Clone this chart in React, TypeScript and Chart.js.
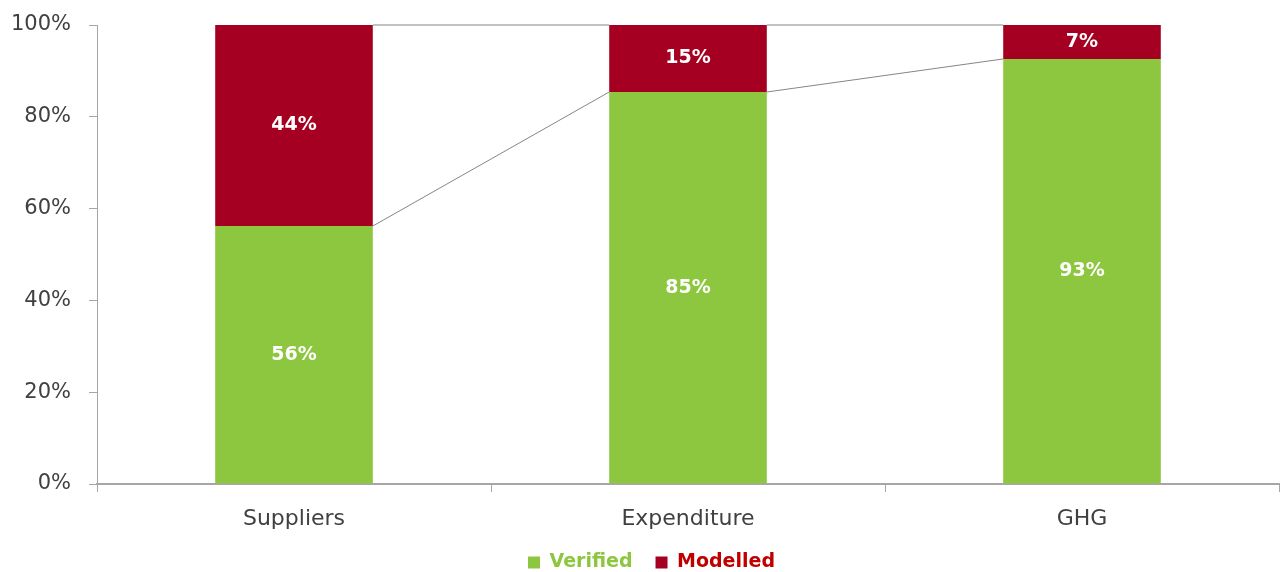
import React, { useEffect, useRef } from "react";
import { Chart, registerables } from "chart.js";

Chart.register(...registerables);

const categories = ["Suppliers", "Expenditure", "GHG"];
const verified = [56.2, 85.4, 92.6];
const modelled = [43.8, 14.6, 7.4];
const verifiedLabels = ["56%", "85%", "93%"];
const modelledLabels = ["44%", "15%", "7%"];
const yTicks = [0, 20, 40, 60, 80, 100];

const GREEN = "#8DC63F";
const RED = "#A50021";
const FONT = "'DejaVu Sans', sans-serif";

const seriesLines = {
  id: "seriesLines",
  afterLayout(chart: any) {
    const l = chart.legend;
    if (l) { l.left += 12; l.right += 12; }
  },
  afterDatasetsDraw(chart: any) {
    const ctx = chart.ctx;
    const y = chart.scales.y;
    const meta0 = chart.getDatasetMeta(0);
    ctx.save();
    ctx.strokeStyle = "#858585";
    ctx.lineWidth = 1;
    for (let i = 0; i < meta0.data.length - 1; i++) {
      const a = meta0.data[i].getProps(["x", "width"], true);
      const b = meta0.data[i + 1].getProps(["x", "width"], true);
      const x1 = a.x + a.width / 2;
      const x2 = b.x - b.width / 2;
      let c1 = 0;
      let c2 = 0;
      for (let d = 0; d < chart.data.datasets.length; d++) {
        c1 += chart.data.datasets[d].data[i];
        c2 += chart.data.datasets[d].data[i + 1];
        ctx.beginPath();
        ctx.moveTo(x1, y.getPixelForValue(Math.min(c1, 100)));
        ctx.lineTo(x2, y.getPixelForValue(Math.min(c2, 100)));
        ctx.stroke();
      }
    }
    ctx.fillStyle = "#ffffff";
    ctx.font = `bold 19px ${FONT}`;
    ctx.textAlign = "center";
    ctx.textBaseline = "middle";
    const labelSets = [verifiedLabels, modelledLabels];
    chart.data.datasets.forEach((ds: any, d: number) => {
      const meta = chart.getDatasetMeta(d);
      meta.data.forEach((el: any, i: number) => {
        const p = el.getProps(["x", "y", "base"], true);
        ctx.fillText(labelSets[d][i], p.x, (p.y + p.base) / 2);
      });
    });
    ctx.restore();
  },
};

export default function App() {
  const ref = useRef<HTMLCanvasElement>(null);
  useEffect(() => {
    if (!ref.current) return;
    const chart = new Chart(ref.current, {
      type: "bar",
      data: {
        labels: categories,
        datasets: [
          { label: "Verified", data: verified, backgroundColor: GREEN, barPercentage: 0.4, categoryPercentage: 1 },
          { label: "Modelled", data: modelled, backgroundColor: RED, barPercentage: 0.4, categoryPercentage: 1 },
        ],
      },
      options: {
        animation: false,
        responsive: true,
        maintainAspectRatio: false,
        layout: { padding: { top: 25, right: 1, left: 0, bottom: 0 } },
        scales: {
          x: {
            stacked: true,
            grid: { drawOnChartArea: false, drawTicks: true, tickLength: 8, color: "#a6a6a6", offset: true },
            border: { color: "#a6a6a6", width: 2 },
            ticks: { color: "#404040", font: { family: FONT, size: 22 }, padding: 14 },
            afterFit: (s: any) => { s.height = 46; s.paddingLeft = 0; s.paddingRight = 0; },
          },
          y: {
            stacked: true,
            min: 0,
            max: 100,
            afterBuildTicks: (s: any) => { s.ticks = yTicks.map((v) => ({ value: v })); },
            grid: { drawOnChartArea: false, drawTicks: true, tickLength: 8, color: "#a6a6a6" },
            border: { color: "#a6a6a6", width: 1 },
            ticks: { color: "#404040", font: { family: FONT, size: 21 }, padding: 18, callback: (v: any) => v + "%" },
            afterFit: (s: any) => { s.width = 97; s.paddingTop = 0; s.paddingBottom = 0; },
          },
        },
        plugins: {
          tooltip: { enabled: false },
          legend: {
            position: "bottom",
            labels: {
              boxWidth: 12,
              boxHeight: 12,
              padding: 23,
              font: { family: FONT, size: 19, weight: "bold" },
              generateLabels: () => [
                { text: "Verified", fillStyle: GREEN, strokeStyle: GREEN, lineWidth: 0, fontColor: GREEN, datasetIndex: 0 } as any,
                { text: "Modelled", fillStyle: RED, strokeStyle: RED, lineWidth: 0, fontColor: "#C00000", datasetIndex: 1 } as any,
              ],
            },
          },
        },
      },
      plugins: [seriesLines],
    });
    return () => chart.destroy();
  }, []);
  return (
    <div style={{ position: "absolute", left: 0, top: 0, width: 1280, height: 572, overflow: "hidden" }}>
      <div style={{ position: "relative", width: 1280, height: 582 }}>
        <canvas ref={ref} />
      </div>
    </div>
  );
}
